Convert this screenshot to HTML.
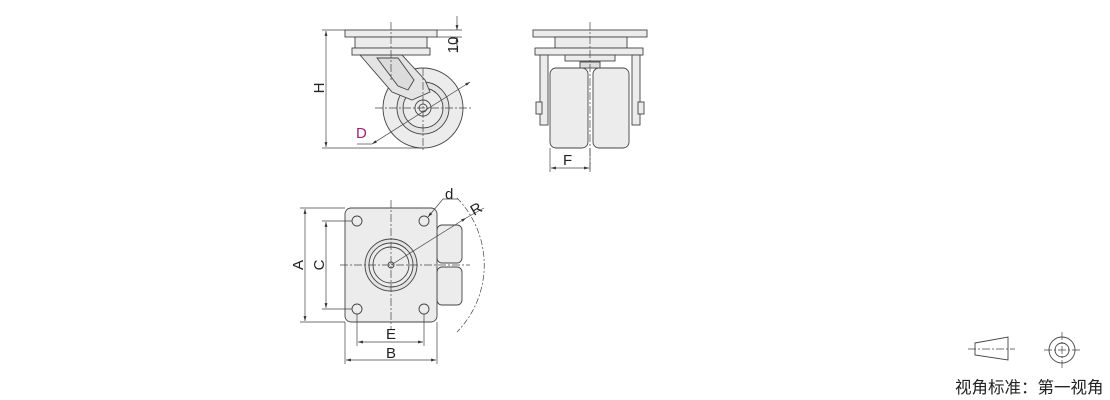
<!DOCTYPE html>
<html><head><meta charset="utf-8"><style>
html,body{margin:0;padding:0;background:#fff;width:1110px;height:400px;overflow:hidden}
text{font-family:"Liberation Sans","Noto Sans CJK SC",sans-serif;fill:#222}
</style></head><body>
<svg width="1110" height="400" viewBox="0 0 1110 400" xmlns="http://www.w3.org/2000/svg">
<defs>
<marker id="a" viewBox="0 0 10 10" refX="10" refY="5" markerWidth="7" markerHeight="7" orient="auto-start-reverse"><path d="M0,2 L10,5 L0,8 z" fill="#333"/></marker>
</defs>
<g stroke="#444" stroke-width="0.9" fill="#ececec">
<!-- side view -->
<rect x="345" y="30" width="92" height="7"/>
<rect x="355" y="37" width="72" height="11"/>
<rect x="352" y="48" width="78" height="7"/>
<circle cx="423" cy="108" r="40"/>
<circle cx="423" cy="108" r="26" fill="#e4e4e4"/>
<circle cx="423" cy="108" r="20"/>
<path d="M360,55 L402,55 L425,80 L430,92 L412,100 L392,92 Z" fill="#e4e4e4"/>
<path d="M377,58 L398,58 L414,80 L408,90 L398,86 Z" fill="#dcdcdc"/>
<circle cx="423" cy="108" r="8"/>
<circle cx="423" cy="108" r="4"/>
<!-- front view -->
<rect x="533" y="30" width="114" height="7"/>
<rect x="555" y="37" width="72" height="11"/>
<rect x="535" y="48" width="108" height="7"/>
<rect x="565" y="55" width="50" height="6"/>
<rect x="540" y="55" width="8" height="70"/>
<rect x="632" y="55" width="8" height="70"/>
<rect x="536" y="102" width="6" height="12"/>
<rect x="638" y="102" width="6" height="12"/>
<rect x="550" y="68" width="38" height="80" rx="6"/>
<rect x="593" y="68" width="36" height="80" rx="6"/>
<rect x="580" y="62" width="20" height="6" fill="#ddd"/>
<!-- top view -->
<rect x="437" y="225" width="25" height="38" rx="5"/>
<rect x="437" y="267" width="25" height="38" rx="5"/>
<rect x="345" y="208" width="92" height="114" rx="6"/>
<circle cx="391" cy="265" r="26" fill="#e4e4e4"/>
<circle cx="391" cy="265" r="22"/>
<circle cx="391" cy="265" r="18"/>
<circle cx="391" cy="265" r="3"/>
<circle cx="357" cy="221" r="5"/><circle cx="424" cy="221" r="5"/>
<circle cx="357" cy="309" r="5"/><circle cx="424" cy="309" r="5"/>
<!-- legend -->
<path d="M975,343 L1008,337 L1008,360 L975,355 Z" fill="none"/>
<circle cx="1062" cy="350" r="13" fill="none"/>
<circle cx="1062" cy="350" r="7" fill="none"/>
</g>
<g stroke="#444" stroke-width="0.7" fill="none">
<path d="M391,22 V80 M375,108 H472 M423,68 V152 M590,22 V172 M340,265 H470 M391,200 V330 M968,349 H1015 M1062,332 V368 M1044,350 H1080" stroke-dasharray="8,2,2,2"/>
<path d="M457,198 A96,96 0 0 1 457,332" stroke-dasharray="6,2,2,2"/>
<path d="M322,30 H345 M322,148 H423 M437,30 H462 M437,37 H462"/>
<path d="M300,208 H345 M300,322 H345 M322,221 H352 M322,309 H352 M345,322 V364 M437,322 V364 M357,314 V346 M424,314 V346 M550,148 V172 M590,148 V172"/>
<path d="M326,31 V147" marker-start="url(#a)" marker-end="url(#a)"/>
<path d="M457,16 V30" marker-end="url(#a)"/>
<path d="M457,52 V37" marker-end="url(#a)"/>
<path d="M372,144 L470,82" marker-start="url(#a)" marker-end="url(#a)"/>
<path d="M357,144 H372"/>
<path d="M551,168 H589" marker-start="url(#a)" marker-end="url(#a)"/>
<path d="M305,209 V321" marker-start="url(#a)" marker-end="url(#a)"/>
<path d="M326,222 V308" marker-start="url(#a)" marker-end="url(#a)"/>
<path d="M358,342 H423" marker-start="url(#a)" marker-end="url(#a)"/>
<path d="M346,360 H436" marker-start="url(#a)" marker-end="url(#a)"/>
<path d="M391,265 L466,218" marker-end="url(#a)"/>
<path d="M466,218 L484,208"/>
<path d="M428,217 L443,199 H458" marker-start="url(#a)"/>
</g>
<g font-size="15">
<text x="324" y="88" transform="rotate(-90 324 88)" text-anchor="middle">H</text>
<text x="458" y="45" transform="rotate(-90 458 45)" text-anchor="middle">10</text>
<text x="356" y="138" style="fill:#a0207a">D</text>
<text x="563" y="165">F</text>
<text x="303" y="265" transform="rotate(-90 303 265)" text-anchor="middle">A</text>
<text x="324" y="265" transform="rotate(-90 324 265)" text-anchor="middle">C</text>
<text x="386" y="339">E</text>
<text x="386" y="358">B</text>
<text x="445" y="199">d</text>
<text x="474" y="216" transform="rotate(-30 474 216)">R</text>
<text x="955" y="393" font-size="16.5">视角标准：第一视角</text>
</g>
</svg>
</body></html>
